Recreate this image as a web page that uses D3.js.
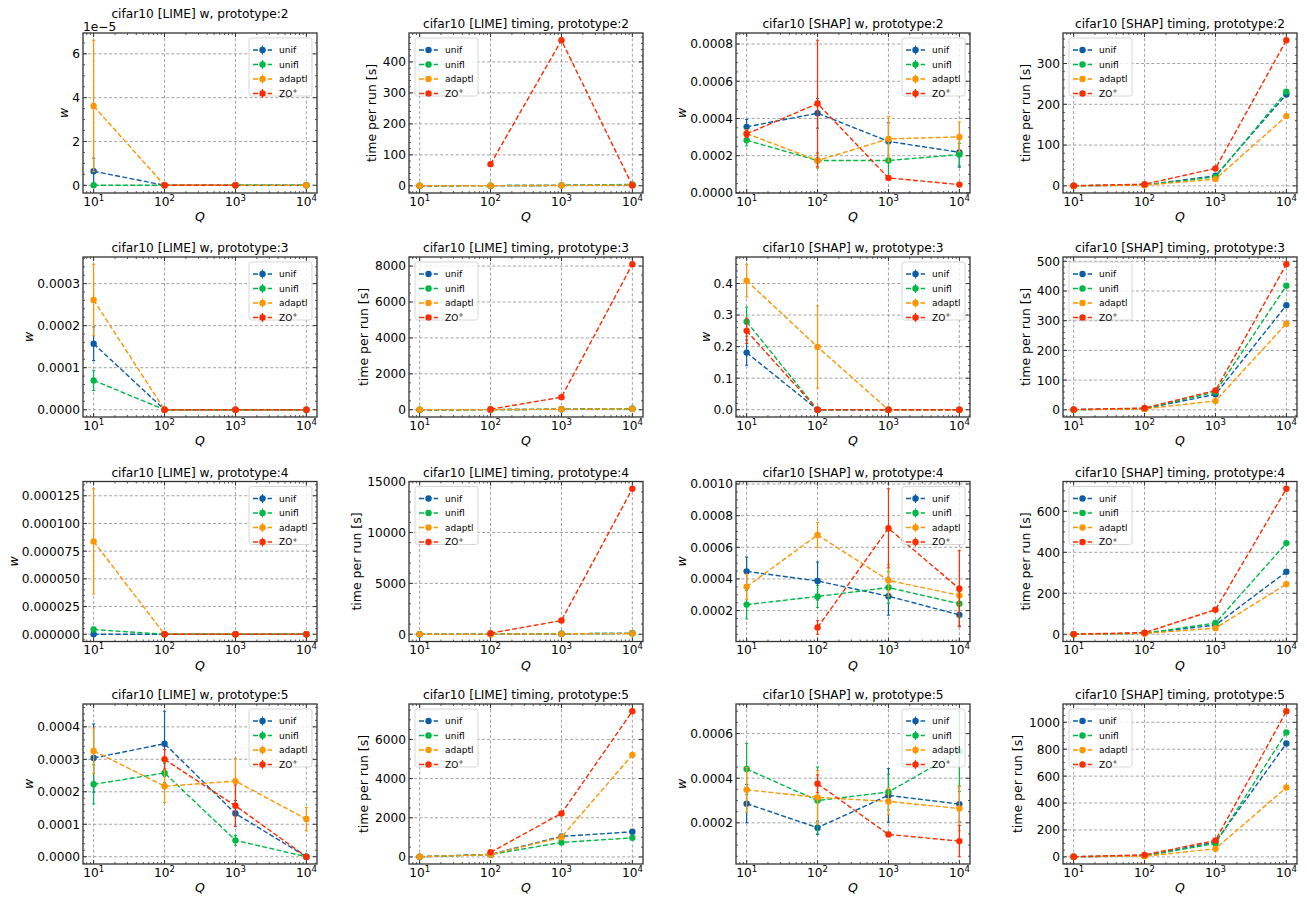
<!DOCTYPE html>
<html>
<head>
<meta charset="utf-8">
<script src="https://cdn.jsdelivr.net/npm/d3@7"></script>
<style>
  body { margin: 0; background: #fff; }
  text { font-family: "DejaVu Sans", sans-serif; fill: #000; }
</style>
</head>
<body>
<svg id="fig" width="1307" height="897"></svg>
<script>
// Query budgets on the x axis (log scale)
const Q = [10, 100, 1000, 10000];
const xTicks = [10, 100, 1000, 10000];
const seriesNames = ["unif", "unifl", "adaptl", "ZO+"];
const seriesColors = ["#0C5DA5", "#00B945", "#FF9500", "#FF2C00"];
const prototypes = [2, 3, 4, 5];

// rows of each block: unif, unifl, adaptl, ZO+  (NaN = not run)
// ---- LIME w (mean and std)
const limeW2 = [[0.64e-5, 0, 0, 0], [0, 0, 0, 0], [3.62e-5, 0, 0, 0], [NaN, 0, 0, NaN]];
const limeW2Err = [[0.6e-5, 0, 0, 0], [0.02e-5, 0, 0, 0], [3.0e-5, 0, 0, 0], [0, 0, 0, 0]];
const limeW3 = [[0.000157, 0, 0, 0], [0.0000697, 0, 0, 0], [0.000261, 0, 0, 0], [NaN, 0, 0, 0]];
const limeW3Err = [[0.00004, 0, 0, 0], [0.000024, 0, 0, 0], [0.000085, 0, 0, 0], [0, 0, 0, 0]];
const limeW4 = [[0, 0, 0, 0], [0.0000042, 0, 0, 0], [0.0000838, 0, 0, 0], [NaN, 0, 0, 0]];
const limeW4Err = [[0, 0, 0, 0], [0.000002, 0, 0, 0], [0.0000475, 0, 0, 0], [0, 0, 0, 0]];
const limeW5 = [[0.000304, 0.000348, 0.000133, 0], [0.000223, 0.000258, 0.0000505, 0],
                [0.000326, 0.000217, 0.000233, 0.000116], [NaN, 0.0003, 0.000157, 0]];
const limeW5Err = [[0.000105, 0.0001, 0.00004, 0], [0.00006, 0.00003, 0.000015, 0],
                   [0.00007, 0.00005, 0.00007, 0.000036], [0, 0.00003, 0.000064, 0]];

// ---- LIME timing (s per run)
const limeT2 = [[0.3, 0.6, 1.5, 3], [0.3, 0.6, 1.5, 4.5], [0.3, 0.5, 1.2, 2.5], [NaN, 70, 470, 1]];
const limeT3 = [[1, 5, 30, 60], [1, 5, 30, 60], [1, 5, 30, 50], [NaN, 30, 700, 8100]];
const limeT4 = [[1, 8, 50, 90], [1, 8, 50, 90], [1, 8, 40, 70], [NaN, 100, 1350, 14300]];
const limeT5 = [[10, 130, 1050, 1282], [10, 120, 740, 974], [10, 120, 1005, 5210], [NaN, 236, 2220, 7436]];

// ---- SHAP w (mean and std)
const shapW2 = [[0.000355, 0.000428, 0.000277, 0.000218], [0.000283, 0.000174, 0.000174, 0.000206],
                [0.000319, 0.000174, 0.00029, 0.000301], [0.000317, 0.00048, 0.0000806, 0.0000446]];
const shapW2Err = [[0.00004, 0.00008, 0.0001, 0.00008], [0.00003, 0.00004, 0.00009, 0.00006],
                   [0.00002, 0.00004, 0.00012, 0.00008], [0.00002, 0.00034, 0.00001, 0.000006]];
const shapW3 = [[0.181, 0, 0, 0], [0.279, 0, 0, 0], [0.409, 0.199, 0, 0], [0.25, 0, 0, 0]];
const shapW3Err = [[0.04, 0, 0, 0], [0.046, 0, 0, 0], [0.052, 0.13, 0, 0], [0.04, 0, 0, 0]];
const shapW4 = [[0.000448, 0.000387, 0.000291, 0.000173], [0.000238, 0.000289, 0.000346, 0.000243],
                [0.000351, 0.000678, 0.000391, 0.000296], [NaN, 0.0000936, 0.00072, 0.000338]];
const shapW4Err = [[0.00009, 0.00012, 0.00012, 0.00007], [0.00009, 0.00007, 0.0001, 0.00008],
                   [0.00008, 0.00008, 0.0001, 0.00006], [0, 0.000043, 0.00025, 0.00024]];
const shapW5 = [[0.000286, 0.000178, 0.000323, 0.000284], [0.000441, 0.0003, 0.000338, 0.00052],
                [0.000348, 0.000314, 0.000296, 0.000264], [NaN, 0.000375, 0.000148, 0.000118]];
const shapW5Err = [[0.000086, 0.00003, 0.00012, 0.00008], [0.000115, 0.00015, 0.00008, 0.00018],
                   [0.0001, 0.00012, 0.00006, 0.0001], [0, 0.00004, 0.00001, 0.00007]];

// ---- SHAP timing (s per run)
const shapT2 = [[0.3, 2, 24.6, 224], [0.3, 2, 22, 231], [0.3, 1.5, 16.5, 171], [0.5, 4.1, 42.7, 357]];
const shapT3 = [[0.5, 4, 52, 352], [0.5, 4, 60, 418], [0.3, 3, 30, 290], [1, 6, 65, 490]];
const shapT4 = [[0.5, 5, 45, 305], [0.5, 5, 55, 445], [0.3, 4, 30, 245], [1, 8, 120, 710]];
const shapT5 = [[1, 8, 110, 843], [1, 7, 99, 925], [1, 5, 60, 515], [1, 15, 122, 1082]];

// y tick values per row (prototype)
const limeWTicks = [[0, 2e-5, 4e-5, 6e-5], [0, 1e-4, 2e-4, 3e-4],
                    [0, 2.5e-5, 5e-5, 7.5e-5, 1e-4, 1.25e-4], [0, 1e-4, 2e-4, 3e-4, 4e-4]];
const limeTTicks = [[0, 100, 200, 300, 400], [0, 2000, 4000, 6000, 8000],
                    [0, 5000, 10000, 15000], [0, 2000, 4000, 6000]];
const shapWTicks = [[0, 2e-4, 4e-4, 6e-4, 8e-4], [0, 0.1, 0.2, 0.3, 0.4],
                    [2e-4, 4e-4, 6e-4, 8e-4, 1e-3], [2e-4, 4e-4, 6e-4]];
const shapTTicks = [[0, 100, 200, 300], [0, 100, 200, 300, 400, 500],
                    [0, 200, 400, 600], [0, 200, 400, 600, 800, 1000]];

// layout
const svg = d3.select("#fig");
const colLeft = [83, 409, 736, 1063];
const rowTop = [33, 257, 481.5, 704];
const axW = 234, axH = 160;
const fs = 12.2;

function decimalsFor(step) {
  let d = 0;
  while (d < 10 && Math.abs(Math.round(step * 10 ** d) - step * 10 ** d) > 1e-6) d++;
  return d;
}

function drawPanel(r, c, cfg) {
  const id = `p${r}${c}`;
  const g = svg.append("g").attr("transform", `translate(${colLeft[c]},${rowTop[r]})`);

  const x = d3.scaleLog().domain([10 ** 0.85, 10 ** 4.15]).range([0, axW]);

  // y range from data (+/- std) with 5% margins, like matplotlib
  let lo = Infinity, hi = -Infinity;
  cfg.vals.forEach((row, s) => row.forEach((v, i) => {
    if (isNaN(v)) return;
    const e = cfg.errs ? cfg.errs[s][i] : 0;
    lo = Math.min(lo, v - e); hi = Math.max(hi, v + e);
  }));
  const pad = 0.05 * (hi - lo);
  const y = d3.scaleLinear().domain([lo - pad, hi + pad]).range([axH, 0]);

  g.append("clipPath").attr("id", "clip-" + id)
    .append("rect").attr("width", axW).attr("height", axH);

  // grid
  const grid = g.append("g").attr("stroke", "#8c8c8c").attr("stroke-width", 0.8)
    .attr("stroke-dasharray", "3,2.2");
  xTicks.forEach(t => grid.append("line").attr("x1", x(t)).attr("x2", x(t)).attr("y1", 0).attr("y2", axH));
  cfg.ticks.forEach(t => grid.append("line").attr("x1", 0).attr("x2", axW).attr("y1", y(t)).attr("y2", y(t)));

  // series
  const plot = g.append("g").attr("clip-path", `url(#clip-${id})`);
  const line = d3.line().defined(d => !isNaN(d[1])).x(d => x(d[0])).y(d => y(d[1]));
  cfg.vals.forEach((row, s) => {
    const col = seriesColors[s];
    const pts = row.map((v, i) => [Q[i], v]);
    const sg = plot.append("g");
    sg.append("path").attr("d", line(pts)).attr("fill", "none").attr("stroke", col)
      .attr("stroke-width", 1.4).attr("stroke-dasharray", "5,2.3");
    if (cfg.errs) {
      pts.forEach((p, i) => {
        if (isNaN(p[1])) return;
        const e = cfg.errs[s][i];
        if (!(e > 0)) return;
        const px = x(p[0]), y1 = y(p[1] - e), y2 = y(p[1] + e);
        sg.append("line").attr("x1", px).attr("x2", px).attr("y1", y1).attr("y2", y2)
          .attr("stroke", col).attr("stroke-width", 1.2);
        [y1, y2].forEach(yy => sg.append("line").attr("x1", px - 1.6).attr("x2", px + 1.6)
          .attr("y1", yy).attr("y2", yy).attr("stroke", col).attr("stroke-width", 1));
      });
    }
    sg.selectAll("circle").data(pts.filter(p => !isNaN(p[1]))).join("circle")
      .attr("cx", d => x(d[0])).attr("cy", d => y(d[1])).attr("r", 3.2).attr("fill", col);
  });

  // frame and inward ticks on all sides
  const ax = g.append("g").attr("stroke", "#333");
  const [d0, d1] = y.domain();
  xTicks.forEach(t => {
    ax.append("line").attr("x1", x(t)).attr("x2", x(t)).attr("y1", axH).attr("y2", axH - 4);
    ax.append("line").attr("x1", x(t)).attr("x2", x(t)).attr("y1", 0).attr("y2", 4);
  });
  for (let k = 0; k <= 4; k++) for (let m = 2; m <= 9; m++) {
    const v = m * 10 ** k;
    if (v < x.domain()[0] || v > x.domain()[1]) continue;
    ax.append("line").attr("x1", x(v)).attr("x2", x(v)).attr("y1", axH).attr("y2", axH - 2).attr("stroke-width", 0.8);
    ax.append("line").attr("x1", x(v)).attr("x2", x(v)).attr("y1", 0).attr("y2", 2).attr("stroke-width", 0.8);
  }
  const step = cfg.ticks[1] - cfg.ticks[0];
  const ex = Math.floor(Math.log10(step)), mant = step / 10 ** ex;
  const ndiv = [1, 2.5, 5, 10].some(t => Math.abs(mant - t) < 1e-6) ? 5 : 4;
  const ms = step / ndiv;
  for (let k = Math.ceil((d0 - cfg.ticks[0]) / ms); cfg.ticks[0] + k * ms <= d1; k++) {
    const v = cfg.ticks[0] + k * ms;
    const major = Math.abs(k % ndiv) === 0;
    const len = major ? 4 : 2, sw = major ? 1 : 0.8;
    ax.append("line").attr("x1", 0).attr("x2", len).attr("y1", y(v)).attr("y2", y(v)).attr("stroke-width", sw);
    ax.append("line").attr("x1", axW).attr("x2", axW - len).attr("y1", y(v)).attr("y2", y(v)).attr("stroke-width", sw);
  }
  ax.append("rect").attr("width", axW).attr("height", axH).attr("fill", "none").attr("stroke-width", 1.3);

  // x tick labels 10^k
  const xl = g.append("g").attr("font-size", fs).attr("text-anchor", "middle");
  xTicks.forEach(t => {
    const tx = xl.append("text").attr("x", x(t)).attr("y", axH + 12.7);
    tx.append("tspan").text("10");
    tx.append("tspan").attr("font-size", fs * 0.7).attr("dy", -5).text(Math.round(Math.log10(t)));
  });
  g.append("text").attr("x", axW / 2).attr("y", axH + 28).attr("text-anchor", "middle")
    .attr("font-size", 12.5).attr("font-style", "italic").text("Q");

  // y tick labels
  const scale = cfg.sciExp ? 10 ** cfg.sciExp : 1;
  const dec = decimalsFor(step / scale);
  const yl = g.append("g").attr("font-size", fs).attr("text-anchor", "end");
  cfg.ticks.forEach(t => {
    yl.append("text").attr("x", -3).attr("y", y(t)).attr("dy", "0.36em").text((t / scale).toFixed(dec));
  });
  const tickLeft = yl.node().getBBox().x;
  const ylab = g.append("text").attr("transform", `translate(${tickLeft - 4 - (cfg.kind === "w" ? 0 : 2.7)},${axH / 2}) rotate(-90)`)
    .attr("text-anchor", "middle").attr("font-size", 12.5);
  if (cfg.kind === "w") ylab.attr("font-style", "italic").text("w");
  else ylab.text("time per run [s]");

  if (cfg.sciExp) {
    g.append("text").attr("x", 0).attr("y", -2).attr("font-size", fs).text(`1e\u2212${-cfg.sciExp}`);
  }
  g.append("text").attr("x", axW / 2).attr("y", cfg.sciExp ? -15 : -5).attr("text-anchor", "middle")
    .attr("font-size", fs).text(cfg.title);

  // legend
  const lw = 63, lh = 58;
  const lg = g.append("g").attr("transform", `translate(${cfg.legendLeft ? 6 : axW - 5 - lw},5)`);
  lg.append("rect").attr("width", lw).attr("height", lh).attr("rx", 2.5)
    .attr("fill", "#fff").attr("fill-opacity", 0.8).attr("stroke", "#cccccc").attr("stroke-width", 0.8);
  seriesNames.forEach((name, s) => {
    const yy = 12 + s * 14.5, col = seriesColors[s];
    lg.append("line").attr("x1", 4).attr("x2", 23).attr("y1", yy).attr("y2", yy)
      .attr("stroke", col).attr("stroke-width", 1.4).attr("stroke-dasharray", "5,2.3");
    if (cfg.errs) {
      lg.append("line").attr("x1", 13.5).attr("x2", 13.5).attr("y1", yy - 4.5).attr("y2", yy + 4.5)
        .attr("stroke", col).attr("stroke-width", 1.1);
    }
    lg.append("circle").attr("cx", 13.5).attr("cy", yy).attr("r", 3.2).attr("fill", col);
    const tt = lg.append("text").attr("x", 30).attr("y", yy).attr("dy", "0.35em").attr("font-size", 9);
    if (name === "ZO+") {
      tt.append("tspan").text("ZO");
      tt.append("tspan").attr("font-size", 6.5).attr("dy", -3.5).text("+");
    } else tt.text(name);
  });
}

const limeW = [limeW2, limeW3, limeW4, limeW5];
const limeWErr = [limeW2Err, limeW3Err, limeW4Err, limeW5Err];
const limeT = [limeT2, limeT3, limeT4, limeT5];
const shapW = [shapW2, shapW3, shapW4, shapW5];
const shapWErr = [shapW2Err, shapW3Err, shapW4Err, shapW5Err];
const shapT = [shapT2, shapT3, shapT4, shapT5];

prototypes.forEach((p, r) => {
  drawPanel(r, 0, { title: `cifar10 [LIME] w, prototype:${p}`, kind: "w", vals: limeW[r], errs: limeWErr[r],
    ticks: limeWTicks[r], legendLeft: false, sciExp: r === 0 ? -5 : 0 });
  drawPanel(r, 1, { title: `cifar10 [LIME] timing, prototype:${p}`, kind: "t", vals: limeT[r], errs: null,
    ticks: limeTTicks[r], legendLeft: true });
  drawPanel(r, 2, { title: `cifar10 [SHAP] w, prototype:${p}`, kind: "w", vals: shapW[r], errs: shapWErr[r],
    ticks: shapWTicks[r], legendLeft: false });
  drawPanel(r, 3, { title: `cifar10 [SHAP] timing, prototype:${p}`, kind: "t", vals: shapT[r], errs: null,
    ticks: shapTTicks[r], legendLeft: true });
});
</script>
</body>
</html>
